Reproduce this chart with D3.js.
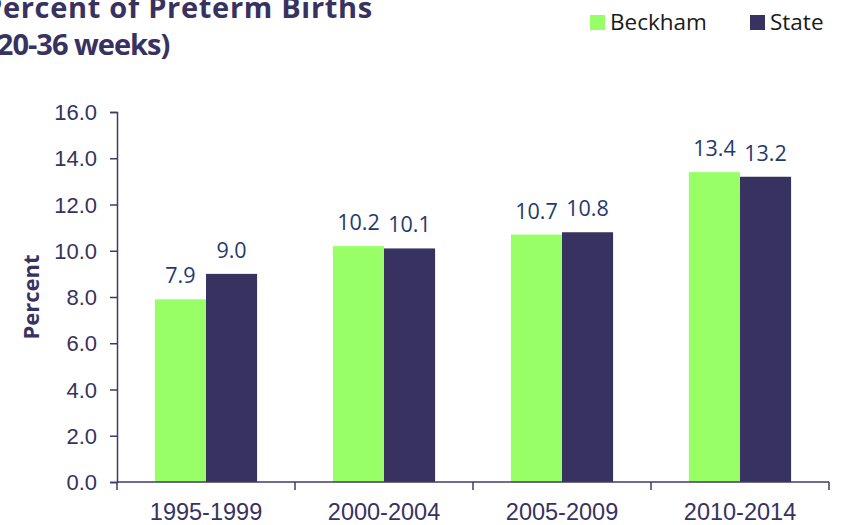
<!DOCTYPE html>
<html>
<head>
<meta charset="utf-8">
<script src="https://d3js.org/d3.v7.min.js"></script>
<style>
  body { margin: 0; background: #fff; }
  svg { display: block; font-family: "Open Sans", sans-serif; }
</style>
</head>
<body>
<div id="chart"></div>
<script>
// Chart data
const periods = ['1995-1999', '2000-2004', '2005-2009', '2010-2014'];
const seriesNames = ['Beckham', 'State'];
const beckham = [7.9, 10.2, 10.7, 13.4];
const state = [9.0, 10.1, 10.8, 13.2];
const yTicks = [0, 2, 4, 6, 8, 10, 12, 14, 16];

const colors = { Beckham: '#99ff66', State: '#37325f' };
const axisColor = '#3f3b66';
const textColor = '#37325f';

const width = 847, height = 525;
const margin = { top: 112, right: 18, bottom: 43, left: 117 };
const innerW = width - margin.left - margin.right;
const innerH = height - margin.top - margin.bottom;

const svg = d3.select('#chart').append('svg')
    .attr('width', width)
    .attr('height', height);

const g = svg.append('g')
    .attr('transform', `translate(${margin.left},${margin.top})`);

// Scales
const x0 = d3.scaleBand()
    .domain(periods)
    .range([0, innerW])
    .padding(0);

const x1 = d3.scaleBand()
    .domain(seriesNames)
    .range([x0.bandwidth() * 0.213, x0.bandwidth() * 0.787])
    .padding(0);

const y = d3.scaleLinear()
    .domain([0, 16])
    .range([innerH, 0]);

const rows = periods.map((p, i) => ({
    period: p,
    values: [
        { name: 'Beckham', value: beckham[i] },
        { name: 'State', value: state[i] }
    ]
}));

// Bars
const groups = g.selectAll('.group')
    .data(rows)
    .enter()
    .append('g')
    .attr('class', 'group')
    .attr('transform', d => `translate(${x0(d.period)},0)`);

groups.selectAll('rect')
    .data(d => d.values)
    .enter()
    .append('rect')
    .attr('x', d => x1(d.name))
    .attr('y', d => y(d.value))
    .attr('width', x1.bandwidth())
    .attr('height', d => innerH - y(d.value))
    .attr('fill', d => colors[d.name]);

// Value labels
groups.selectAll('.val')
    .data(d => d.values)
    .enter()
    .append('text')
    .attr('class', 'val')
    .attr('x', d => x1(d.name) + x1.bandwidth() / 2)
    .attr('y', d => y(d.value) - 16)
    .attr('text-anchor', 'middle')
    .style('font-size', '21.5px')
    .attr('fill', '#1f3a6e')
    .text(d => d.value.toFixed(1));

// Y axis
const yAxis = g.append('g')
    .call(d3.axisLeft(y).tickValues(yTicks).tickSize(7).tickPadding(13)
        .tickFormat(d => d.toFixed(1)));
yAxis.select('.domain').attr('stroke', axisColor).attr('stroke-width', 1.5);
yAxis.selectAll('.tick line').attr('stroke', axisColor).attr('stroke-width', 1.5);
yAxis.selectAll('.tick text')
    .attr('fill', textColor)
    .style('font-size', '22px')
    .attr('dy', '0.35em');

// X axis with ticks at category boundaries
const xAxis = g.append('g')
    .attr('transform', `translate(0,${innerH})`)
    .call(d3.axisBottom(x0).tickSize(0));
xAxis.select('.domain').remove();
xAxis.append('line')
    .attr('x1', 0).attr('x2', innerW)
    .attr('stroke', axisColor).attr('stroke-width', 1.5);
xAxis.selectAll('.bound')
    .data(periods.concat(['end']))
    .enter()
    .append('line')
    .attr('class', 'bound')
    .attr('x1', (d, i) => i * x0.step())
    .attr('x2', (d, i) => i * x0.step())
    .attr('y1', 0).attr('y2', 8)
    .attr('stroke', axisColor).attr('stroke-width', 1.5);
xAxis.selectAll('.tick text')
    .attr('y', 38)
    .attr('dy', 0)
    .attr('fill', textColor)
    .style('font-size', '23.5px');

// Y axis title
svg.append('text')
    .attr('transform', `translate(39,${margin.top + innerH / 2}) rotate(-90)`)
    .attr('text-anchor', 'middle')
    .attr('fill', textColor)
    .style('font-size', '22px')
    .style('font-weight', 'bold')
    .text('Percent');

// Chart title (runs off the left edge, as in the original)
svg.append('text')
    .attr('x', -16)
    .attr('y', 18)
    .attr('fill', textColor)
    .style('font-size', '29px')
    .style('font-weight', 'bold')
    .style('letter-spacing', '0.7px')
    .text('Percent of Preterm Births');
svg.append('text')
    .attr('x', -12)
    .attr('y', 55)
    .attr('fill', textColor)
    .style('font-size', '29px')
    .style('font-weight', 'bold')
    .style('letter-spacing', '-1px')
    .text('(20-36 weeks)');

// Legend
const legendPos = [590, 750];
const legend = svg.selectAll('.legend')
    .data(seriesNames)
    .enter()
    .append('g')
    .attr('class', 'legend')
    .attr('transform', (d, i) => `translate(${legendPos[i]},15)`);
legend.append('rect')
    .attr('width', 15).attr('height', 15)
    .attr('fill', d => colors[d]);
legend.append('text')
    .attr('x', 20)
    .attr('y', 15)
    .attr('fill', '#1a1a1a')
    .style('font-size', '22.5px')
    .text(d => d);
</script>
</body>
</html>
